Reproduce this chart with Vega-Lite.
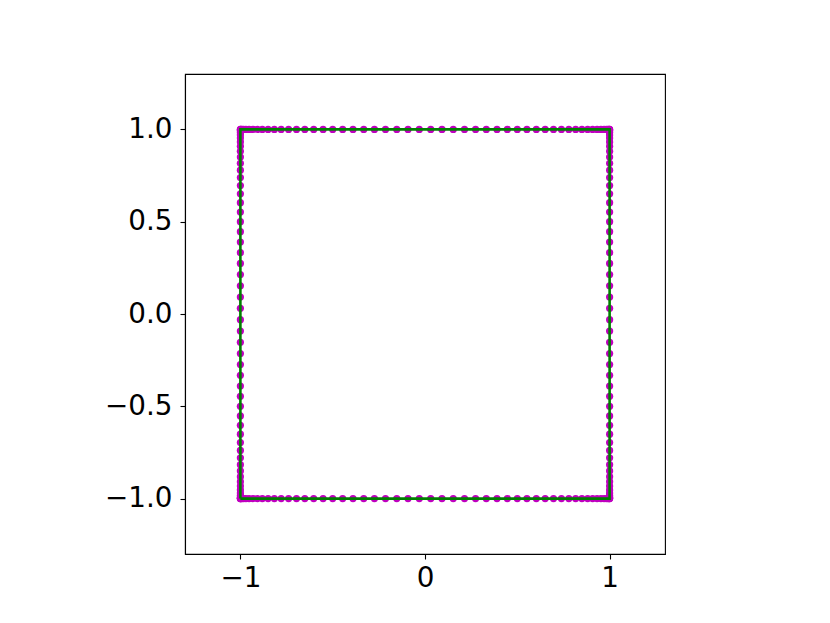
{
  "$schema": "https://vega.github.io/schema/vega-lite/v6.json",
  "autosize": "none",
  "width": 480,
  "height": 480,
  "padding": {"left": 185, "top": 74, "right": 165, "bottom": 69},
  "background": "white",
  "config": {
    "view": {"stroke": "black", "strokeWidth": 1.1},
    "axis": {
      "grid": false,
      "domainColor": "black",
      "domainWidth": 1.1,
      "tickColor": "black",
      "tickSize": 5,
      "tickWidth": 1.1,
      "labelColor": "black",
      "title": null
    }
  },
  "data": {"values": [
    {"x":-1,"y":-1},{"x":-0.998,"y":-1},{"x":-0.992,"y":-1},{"x":-0.983,"y":-1},{"x":-0.97,"y":-1},{"x":-0.953,"y":-1},{"x":-0.932,"y":-1},{"x":-0.908,"y":-1},{"x":-0.881,"y":-1},{"x":-0.85,"y":-1},{"x":-0.816,"y":-1},{"x":-0.779,"y":-1},{"x":-0.739,"y":-1},{"x":-0.696,"y":-1},{"x":-0.651,"y":-1},{"x":-0.603,"y":-1},{"x":-0.552,"y":-1},{"x":-0.5,"y":-1},{"x":-0.446,"y":-1},{"x":-0.39,"y":-1},{"x":-0.332,"y":-1},{"x":-0.274,"y":-1},{"x":-0.214,"y":-1},{"x":-0.153,"y":-1},{"x":-0.092,"y":-1},{"x":-0.031,"y":-1},{"x":0.031,"y":-1},{"x":0.092,"y":-1},{"x":0.153,"y":-1},{"x":0.214,"y":-1},{"x":0.274,"y":-1},{"x":0.332,"y":-1},{"x":0.39,"y":-1},{"x":0.446,"y":-1},{"x":0.5,"y":-1},{"x":0.552,"y":-1},{"x":0.603,"y":-1},{"x":0.651,"y":-1},{"x":0.696,"y":-1},{"x":0.739,"y":-1},{"x":0.779,"y":-1},{"x":0.816,"y":-1},{"x":0.85,"y":-1},{"x":0.881,"y":-1},{"x":0.908,"y":-1},{"x":0.932,"y":-1},{"x":0.953,"y":-1},{"x":0.97,"y":-1},{"x":0.983,"y":-1},{"x":0.992,"y":-1},{"x":0.998,"y":-1},
    {"x":1,"y":-1},{"x":1,"y":-0.998},{"x":1,"y":-0.992},{"x":1,"y":-0.983},{"x":1,"y":-0.97},{"x":1,"y":-0.953},{"x":1,"y":-0.932},{"x":1,"y":-0.908},{"x":1,"y":-0.881},{"x":1,"y":-0.85},{"x":1,"y":-0.816},{"x":1,"y":-0.779},{"x":1,"y":-0.739},{"x":1,"y":-0.696},{"x":1,"y":-0.651},{"x":1,"y":-0.603},{"x":1,"y":-0.552},{"x":1,"y":-0.5},{"x":1,"y":-0.446},{"x":1,"y":-0.39},{"x":1,"y":-0.332},{"x":1,"y":-0.274},{"x":1,"y":-0.214},{"x":1,"y":-0.153},{"x":1,"y":-0.092},{"x":1,"y":-0.031},{"x":1,"y":0.031},{"x":1,"y":0.092},{"x":1,"y":0.153},{"x":1,"y":0.214},{"x":1,"y":0.274},{"x":1,"y":0.332},{"x":1,"y":0.39},{"x":1,"y":0.446},{"x":1,"y":0.5},{"x":1,"y":0.552},{"x":1,"y":0.603},{"x":1,"y":0.651},{"x":1,"y":0.696},{"x":1,"y":0.739},{"x":1,"y":0.779},{"x":1,"y":0.816},{"x":1,"y":0.85},{"x":1,"y":0.881},{"x":1,"y":0.908},{"x":1,"y":0.932},{"x":1,"y":0.953},{"x":1,"y":0.97},{"x":1,"y":0.983},{"x":1,"y":0.992},{"x":1,"y":0.998},
    {"x":1,"y":1},{"x":0.998,"y":1},{"x":0.992,"y":1},{"x":0.983,"y":1},{"x":0.97,"y":1},{"x":0.953,"y":1},{"x":0.932,"y":1},{"x":0.908,"y":1},{"x":0.881,"y":1},{"x":0.85,"y":1},{"x":0.816,"y":1},{"x":0.779,"y":1},{"x":0.739,"y":1},{"x":0.696,"y":1},{"x":0.651,"y":1},{"x":0.603,"y":1},{"x":0.552,"y":1},{"x":0.5,"y":1},{"x":0.446,"y":1},{"x":0.39,"y":1},{"x":0.332,"y":1},{"x":0.274,"y":1},{"x":0.214,"y":1},{"x":0.153,"y":1},{"x":0.092,"y":1},{"x":0.031,"y":1},{"x":-0.031,"y":1},{"x":-0.092,"y":1},{"x":-0.153,"y":1},{"x":-0.214,"y":1},{"x":-0.274,"y":1},{"x":-0.332,"y":1},{"x":-0.39,"y":1},{"x":-0.446,"y":1},{"x":-0.5,"y":1},{"x":-0.552,"y":1},{"x":-0.603,"y":1},{"x":-0.651,"y":1},{"x":-0.696,"y":1},{"x":-0.739,"y":1},{"x":-0.779,"y":1},{"x":-0.816,"y":1},{"x":-0.85,"y":1},{"x":-0.881,"y":1},{"x":-0.908,"y":1},{"x":-0.932,"y":1},{"x":-0.953,"y":1},{"x":-0.97,"y":1},{"x":-0.983,"y":1},{"x":-0.992,"y":1},{"x":-0.998,"y":1},
    {"x":-1,"y":1},{"x":-1,"y":0.998},{"x":-1,"y":0.992},{"x":-1,"y":0.983},{"x":-1,"y":0.97},{"x":-1,"y":0.953},{"x":-1,"y":0.932},{"x":-1,"y":0.908},{"x":-1,"y":0.881},{"x":-1,"y":0.85},{"x":-1,"y":0.816},{"x":-1,"y":0.779},{"x":-1,"y":0.739},{"x":-1,"y":0.696},{"x":-1,"y":0.651},{"x":-1,"y":0.603},{"x":-1,"y":0.552},{"x":-1,"y":0.5},{"x":-1,"y":0.446},{"x":-1,"y":0.39},{"x":-1,"y":0.332},{"x":-1,"y":0.274},{"x":-1,"y":0.214},{"x":-1,"y":0.153},{"x":-1,"y":0.092},{"x":-1,"y":0.031},{"x":-1,"y":-0.031},{"x":-1,"y":-0.092},{"x":-1,"y":-0.153},{"x":-1,"y":-0.214},{"x":-1,"y":-0.274},{"x":-1,"y":-0.332},{"x":-1,"y":-0.39},{"x":-1,"y":-0.446},{"x":-1,"y":-0.5},{"x":-1,"y":-0.552},{"x":-1,"y":-0.603},{"x":-1,"y":-0.651},{"x":-1,"y":-0.696},{"x":-1,"y":-0.739},{"x":-1,"y":-0.779},{"x":-1,"y":-0.816},{"x":-1,"y":-0.85},{"x":-1,"y":-0.881},{"x":-1,"y":-0.908},{"x":-1,"y":-0.932},{"x":-1,"y":-0.953},{"x":-1,"y":-0.97},{"x":-1,"y":-0.983},{"x":-1,"y":-0.992},{"x":-1,"y":-0.998},{"x":-1,"y":-1}
  ]},
  "encoding": {
    "x": {"field": "x", "type": "quantitative",
          "scale": {"domain": [-1.3, 1.3], "nice": false, "zero": false},
          "axis": {"values": [-1, 0, 1], "format": "d", "labelPadding": 5, "labelFont": "DejaVu Sans", "labelFontSize": 27.8}},
    "y": {"field": "y", "type": "quantitative",
          "scale": {"domain": [-1.3, 1.3], "nice": false, "zero": false},
          "axis": {"values": [-1, -0.5, 0, 0.5, 1], "format": ".1f", "labelPadding": 8, "labelFont": "DejaVu Sans", "labelFontSize": 27.8}}
  },
  "layer": [
    {"mark": {"type": "point", "shape": "circle", "filled": true, "size": 52, "color": "#bf00bf", "opacity": 1}},
    {"mark": {"type": "line", "color": "#008000", "strokeWidth": 2.6}, "encoding": {"order": {"value": null}}}
  ]
}
